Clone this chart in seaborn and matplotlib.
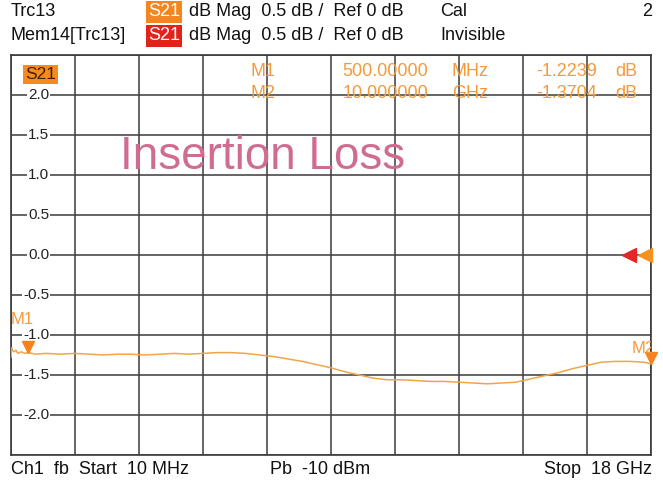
import matplotlib
matplotlib.use("Agg")
import matplotlib.pyplot as plt
from matplotlib import transforms
import pandas as pd
import seaborn as sns

# trace data (GHz, dB)
freq_ghz = [0.01, 0.03, 0.05, 0.1, 0.15, 0.2, 0.3, 0.4, 0.5, 0.7, 1.0, 1.4, 1.8, 2.2,
            2.6, 3.0, 3.4, 3.8, 4.2, 4.6, 5.0, 5.4, 5.8, 6.2, 6.6, 7.0, 7.4, 7.8, 8.2,
            8.6, 9.0, 9.4, 9.8, 10.2, 10.6, 11.0, 11.4, 11.8, 12.2, 12.6, 13.0, 13.4,
            13.8, 14.2, 14.6, 15.0, 15.4, 15.8, 16.2, 16.6, 17.0, 17.4, 17.8, 18.0]
s21_db = [-1.28, -1.16, -1.19, -1.21, -1.19, -1.23, -1.21, -1.23, -1.22, -1.24, -1.23,
          -1.24, -1.23, -1.24, -1.25, -1.24, -1.24, -1.25, -1.24, -1.23, -1.24, -1.23,
          -1.22, -1.22, -1.23, -1.25, -1.27, -1.30, -1.33, -1.37, -1.41, -1.46, -1.50,
          -1.54, -1.56, -1.56, -1.57, -1.58, -1.58, -1.59, -1.60, -1.61, -1.60, -1.59,
          -1.55, -1.51, -1.47, -1.42, -1.38, -1.34, -1.33, -1.33, -1.34, -1.36]

marker_names = ["M1", "M2"]
marker_freq_ghz = [0.5, 18.0]
marker_db = [-1.2239, -1.3704]
readout_freq = ["500.00000", "10.000000"]
readout_unit = ["MHz", "GHz"]
readout_db = ["-1.2239", "-1.3704"]

y_ticks = [2.0, 1.5, 1.0, 0.5, 0.0, -0.5, -1.0, -1.5, -2.0]
start_ghz, stop_ghz = 0.01, 18.0
ref_db = 0.0

ORANGE = "#F39A3A"
TRACE = "#F2A548"
RED = "#E4262A"
GRID = "#3a3a3a"
FS = 13

sns.set_style("white")
plt.rcParams["font.family"] = ["Liberation Sans", "DejaVu Sans"]

df = pd.DataFrame({"f": freq_ghz, "s21": s21_db})

fig = plt.figure(figsize=(6.63, 4.88), dpi=100)
W, H = 663, 488
ax = fig.add_axes([11 / W, 1 - 455 / H, 640 / W, 400 / H])

sns.lineplot(data=df, x="f", y="s21", ax=ax, color=TRACE, lw=1.1, zorder=3)

ax.set_xlim(start_ghz, stop_ghz)
ax.set_ylim(-2.5, 2.5)
step = (stop_ghz - start_ghz) / 10
ax.set_xticks([start_ghz + i * step for i in range(11)])
ax.set_yticks([2.5 - 0.5 * i for i in range(11)])
ax.grid(True, color=GRID, lw=1.1)
ax.tick_params(length=0, labelbottom=False, labelleft=False)
ax.set_xlabel("")
ax.set_ylabel("")
for s in ax.spines.values():
    s.set_color(GRID)
    s.set_linewidth(1.2)

# y labels sitting on the gridlines inside the plot
ytr = transforms.blended_transform_factory(ax.transAxes, ax.transData)
for v in y_ticks:
    ax.text(0.060, v, f"{v:.1f}", transform=ytr, ha="right", va="center",
            fontsize=11, color="#222222", zorder=4,
            bbox=dict(facecolor="white", edgecolor="none", pad=0.8))

# S21 label in plot
ax.text(0.022, 0.97, "S21", transform=ax.transAxes, ha="left", va="top",
        fontsize=12.5, color="#402000", zorder=5,
        bbox=dict(facecolor="#F58A1F", edgecolor="none", pad=1.2))

# markers
ms = 9
for name, f, v in zip(marker_names, marker_freq_ghz, marker_db):
    tr = transforms.offset_copy(ax.transData, fig=fig, y=ms / 2, units="points")
    ax.plot([f], [v], marker="v", ms=ms, color="#F5821F", mec="#F5821F",
            transform=tr, clip_on=False, zorder=6)
ax.text(0.0, -0.9, "M1", transform=ax.transData, ha="left", va="bottom",
        fontsize=12, color=ORANGE, zorder=6)
ax.text(0.97, -1.17, "M2", transform=ytr, ha="left", va="center",
        fontsize=12, color=ORANGE, zorder=6, clip_on=True)

# reference level arrows
ax.plot([0.966], [ref_db], marker="<", ms=10, color=RED, transform=ytr,
        clip_on=False, zorder=6)
ax.plot([0.991], [ref_db], marker="<", ms=10, color="#F5921F", transform=ytr,
        clip_on=False, zorder=6)

# marker readout
for i in range(2):
    y = 1 - (72 + 22 * i - 55) / 400
    kw = dict(transform=ax.transAxes, va="center", fontsize=FS, color=ORANGE, zorder=5)
    ax.text(0.375, y, marker_names[i], **kw)
    ax.text(0.518, y, readout_freq[i], **kw)
    ax.text(0.689, y, readout_unit[i], **kw)
    ax.text(0.916, y, readout_db[i], ha="right", **kw)
    ax.text(0.979, y, "dB", ha="right", **kw)

fig.text(120 / W, 1 - 157 / H, "Insertion Loss", ha="left", va="center",
         fontsize=33, color="#D06C92", zorder=5)

# header
hdr = dict(fontsize=FS, color="#111111", va="center")
fig.text(11 / W, 1 - 12 / H, "Trc13", **hdr)
fig.text(11 / W, 1 - 36 / H, "Mem14[Trc13]", **hdr)
fig.text(148 / W, 1 - 12 / H, "S21", fontsize=FS, color="white", va="center",
         bbox=dict(facecolor="#F5861F", edgecolor="none", pad=1.5))
fig.text(148 / W, 1 - 36 / H, "S21", fontsize=FS, color="white", va="center",
         bbox=dict(facecolor="#E2231A", edgecolor="none", pad=1.5))
fig.text(189 / W, 1 - 12 / H, "dB Mag  0.5 dB /  Ref 0 dB", **hdr)
fig.text(189 / W, 1 - 36 / H, "dB Mag  0.5 dB /  Ref 0 dB", **hdr)
fig.text(440 / W, 1 - 12 / H, "Cal", **hdr)
fig.text(440 / W, 1 - 36 / H, "Invisible", **hdr)
fig.text(652 / W, 1 - 12 / H, "2", ha="right", **hdr)

# footer
fig.text(11 / W, 1 - 469 / H, "Ch1  fb  Start  10 MHz", **hdr)
fig.text(270 / W, 1 - 469 / H, "Pb  -10 dBm", **hdr)
fig.text(652 / W, 1 - 469 / H, "Stop  18 GHz", ha="right", **hdr)

fig.savefig("out.png", dpi=100)
